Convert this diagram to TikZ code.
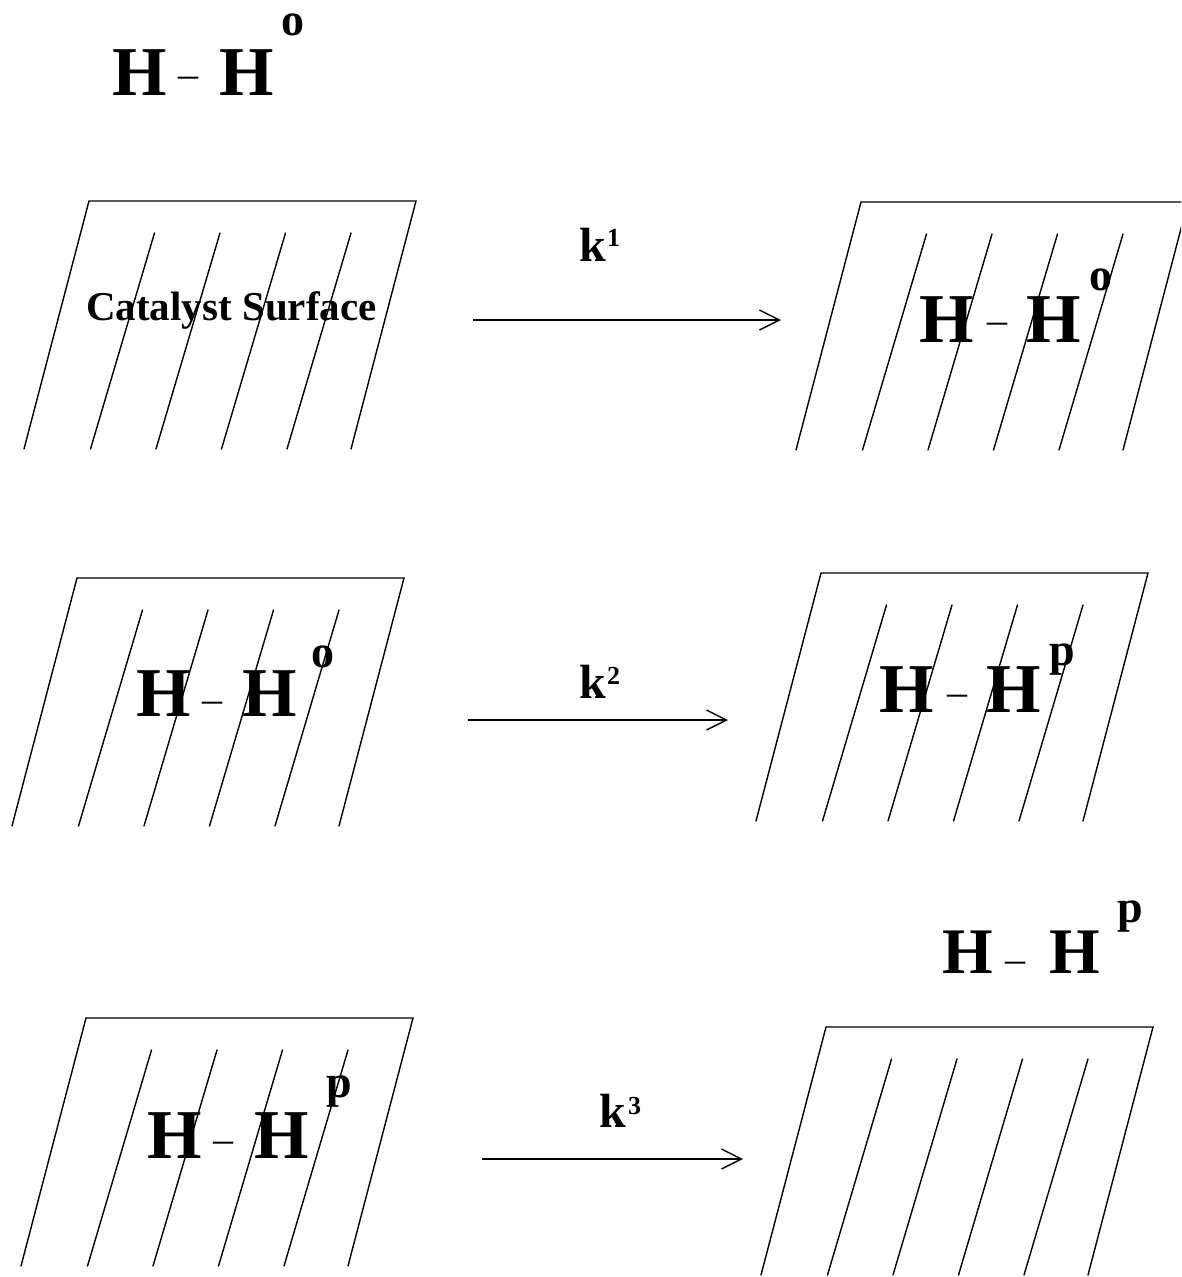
\documentclass[tikz,border=0pt]{standalone}
\usepackage{fontspec}
\setmainfont{Liberation Serif}
\usetikzlibrary{arrows.meta}
\tikzset{
  surfline/.style={line width=1.4pt, line cap=round},
  bigH/.style={font=\fontsize{70}{80}\selectfont\bfseries, inner sep=0pt, anchor=base west},
  smallH/.style={font=\fontsize{65}{75}\selectfont\bfseries, inner sep=0pt, anchor=base west},
  dashtxt/.style={font=\fontsize{40}{48}\selectfont, inner sep=0pt, anchor=base},
  suptxt/.style={font=\fontsize{46}{52}\selectfont\bfseries, inner sep=0pt, anchor=base west},
  ratek/.style={font=\fontsize{48}{56}\selectfont\bfseries, inner sep=0pt, anchor=base west},
  ratesup/.style={font=\fontsize{26}{30}\selectfont\bfseries, inner sep=0pt, anchor=base west},
  labeltxt/.style={font=\fontsize{41}{48}\selectfont\bfseries, inner sep=0pt, anchor=base west},
  react/.style={line width=1.4pt, -{Straight Barb[length=20pt,width=20pt,line width=1.4pt]}},
  pics/surf/.style={code={
    \draw[surfline] (-65,248) -- (0,0) -- (327,0) -- (262,248);
    \foreach \k in {1,...,4} \draw[surfline] (65.5*\k,32) -- (65.5*\k-64,248);
  }}
}
\begin{document}
\begin{tikzpicture}[x=1pt,y=-1pt]
\useasboundingbox (0,0) rectangle (1181,1277);
\clip (0,0) rectangle (1181,1277);

% surfaces
\pic (s1) at (89,201) {surf};
\pic (s2) at (861,202) {surf};
\pic (s3) at (77,578) {surf};
\pic (s4) at (821,573) {surf};
\pic (s5) at (86,1018) {surf};
\pic (s6) at (826,1027) {surf};

% top-left free molecule
\node[bigH] (t0a) at (112,95) {H};
\node[dashtxt] (t0d) at (188,87) {–};
\node[bigH] (t0b) at (219,95) {H};
\node[suptxt] (t0s) at (281,35) {o};

% catalyst surface label
\node[labeltxt] (cat) at (86,320) {Catalyst Surface};

% panel 2
\node[bigH] (t2a) at (919,342) {H};
\node[dashtxt] (t2d) at (997,333) {–};
\node[bigH] (t2b) at (1026,342) {H};
\node[suptxt] (t2s) at (1089,290) {o};

% panel 3
\node[bigH] (t3a) at (136,716) {H};
\node[dashtxt] (t3d) at (212,712) {–};
\node[bigH] (t3b) at (242,716) {H};
\node[suptxt] (t3s) at (311,667) {o};

% panel 4
\node[bigH] (t4a) at (879,712) {H};
\node[dashtxt] (t4d) at (957,705) {–};
\node[bigH] (t4b) at (986,712) {H};
\node[suptxt] (t4s) at (1049,665) {p};

% panel 5
\node[bigH] (t5a) at (147,1158) {H};
\node[dashtxt] (t5d) at (223,1152) {–};
\node[bigH] (t5b) at (254,1158) {H};
\node[suptxt] (t5s) at (326,1097) {p};

% desorbed molecule above panel 6
\node[smallH] (t6a) at (942,973) {H};
\node[dashtxt] (t6d) at (1015,972) {–};
\node[smallH] (t6b) at (1049,973) {H};
\node[suptxt] (t6s) at (1117,922) {p};

% reaction arrows
\coordinate (a1s) at (473,320); \coordinate (a1e) at (781,320);
\coordinate (a2s) at (468,720); \coordinate (a2e) at (728,720);
\coordinate (a3s) at (482,1159); \coordinate (a3e) at (743,1159);
\draw[react] (a1s) -- (a1e);
\draw[react] (a2s) -- (a2e);
\draw[react] (a3s) -- (a3e);

% rate constants
\node[ratek] (k1) at (579,261) {k};
\node[ratesup] (k1s) at (607,246) {1};
\node[ratek] (k2) at (579,698) {k};
\node[ratesup] (k2s) at (607,684) {2};
\node[ratek] (k3) at (599,1127) {k};
\node[ratesup] (k3s) at (628,1114) {3};
\end{tikzpicture}
\end{document}
